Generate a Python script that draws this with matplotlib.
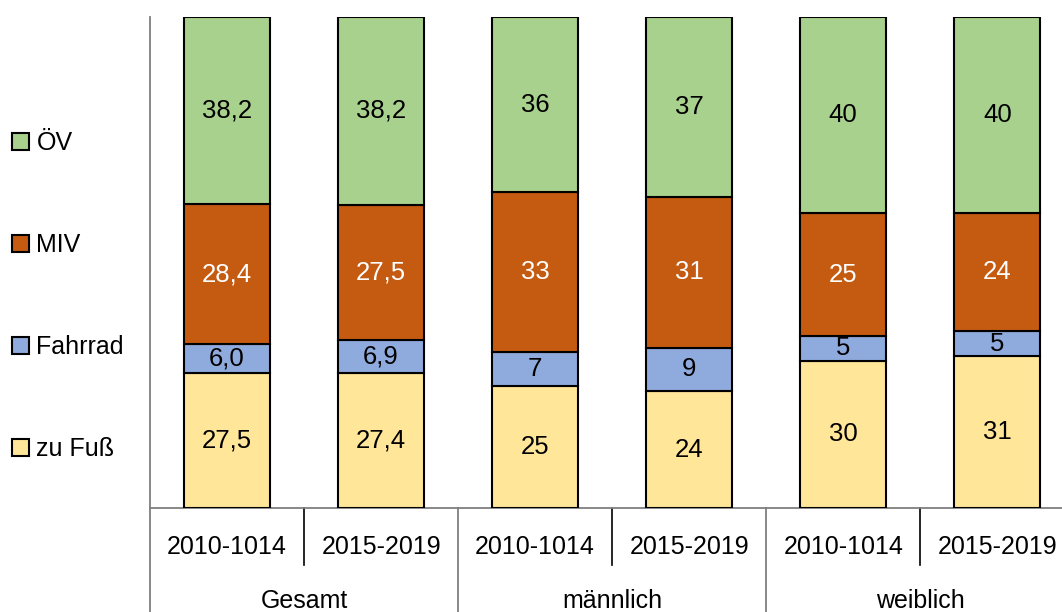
import matplotlib
matplotlib.use("Agg")
import matplotlib.pyplot as plt
import matplotlib.transforms as mtransforms

plt.rcParams['font.family'] = ['Liberation Sans', 'DejaVu Sans']

groups = ["Gesamt", "männlich", "weiblich"]
periods = ["2010-1014", "2015-2019"]
modes = ["zu Fuß", "Fahrrad", "MIV", "ÖV"]
colors = ["#FFE699", "#8FAADC", "#C55A11", "#A9D18E"]
text_colors = ["black", "black", "white", "black"]

zu_fuss = [27.5, 27.4, 25, 24, 30, 31]
fahrrad = [6.0, 6.9, 7, 9, 5, 5]
miv = [28.4, 27.5, 33, 31, 25, 24]
oev = [38.2, 38.2, 36, 37, 40, 40]
decimals = [1, 1, 0, 0, 0, 0]

series = [zu_fuss, fahrrad, miv, oev]
n = len(zu_fuss)
totals = [sum(s[i] for s in series) for i in range(n)]
fs = 18

fig = plt.figure(figsize=(10.62, 6.12), dpi=100)
ax = fig.add_axes([150 / 1062, 104 / 612, 1 - 150 / 1062, 491 / 612])

x = list(range(n))
bottoms = [0.0] * n
handles = []
for vals, col, tcol, name in zip(series, colors, text_colors, modes):
    heights = [v / t * 100 for v, t in zip(vals, totals)]
    bars = ax.bar(x, heights, width=0.56, bottom=bottoms, color=col,
                  edgecolor="black", linewidth=1.5, label=name, zorder=3)
    handles.append(bars)
    for i, (b, h) in enumerate(zip(bottoms, heights)):
        txt = f"{vals[i]:.{decimals[i]}f}".replace(".", ",")
        ax.text(i, b + h / 2, txt, ha="center", va="center", fontsize=fs + 0.5,
                color=tcol, zorder=4)
    bottoms = [b + h for b, h in zip(bottoms, heights)]

ax.set_xlim(-0.5, 5.42)
ax.set_ylim(0, 100)
ax.set_xticks([])
ax.set_yticks([])
for side in ["top", "right"]:
    ax.spines[side].set_visible(False)
ax.spines["left"].set_color("#7f7f7f")
ax.spines["left"].set_linewidth(1.3)
ax.spines["bottom"].set_color("#7f7f7f")
ax.spines["bottom"].set_linewidth(1.3)

# multi-level category axis
trans = mtransforms.blended_transform_factory(ax.transData, ax.transAxes)
ax.plot([-0.5, -0.5], [0, -0.25], color="#7f7f7f", lw=1.3, transform=trans, clip_on=False)
for i in range(n):
    ax.text(i, -0.079, periods[i % 2], ha="center", va="center", fontsize=fs,
            transform=trans, clip_on=False)
for g, name in enumerate(groups):
    ax.text(2 * g + 0.5, -0.19, name, ha="center", va="center", fontsize=fs,
            transform=trans, clip_on=False)
    ax.plot([2 * g + 0.5] * 2, [0, -0.116], color="black", lw=1.2,
            transform=trans, clip_on=False)
    if g > 0:
        ax.plot([2 * g - 0.5] * 2, [0, -0.25], color="#7f7f7f", lw=1.3,
                transform=trans, clip_on=False)

fig.legend(handles[::-1], modes[::-1], loc="center left",
           bbox_to_anchor=(12 / 1062, 0.516), frameon=False, fontsize=fs,
           handlelength=0.68, handleheight=0.68, handletextpad=0.3,
           labelspacing=3.12, borderpad=0, borderaxespad=0)

fig.savefig("out.png", dpi=100)
